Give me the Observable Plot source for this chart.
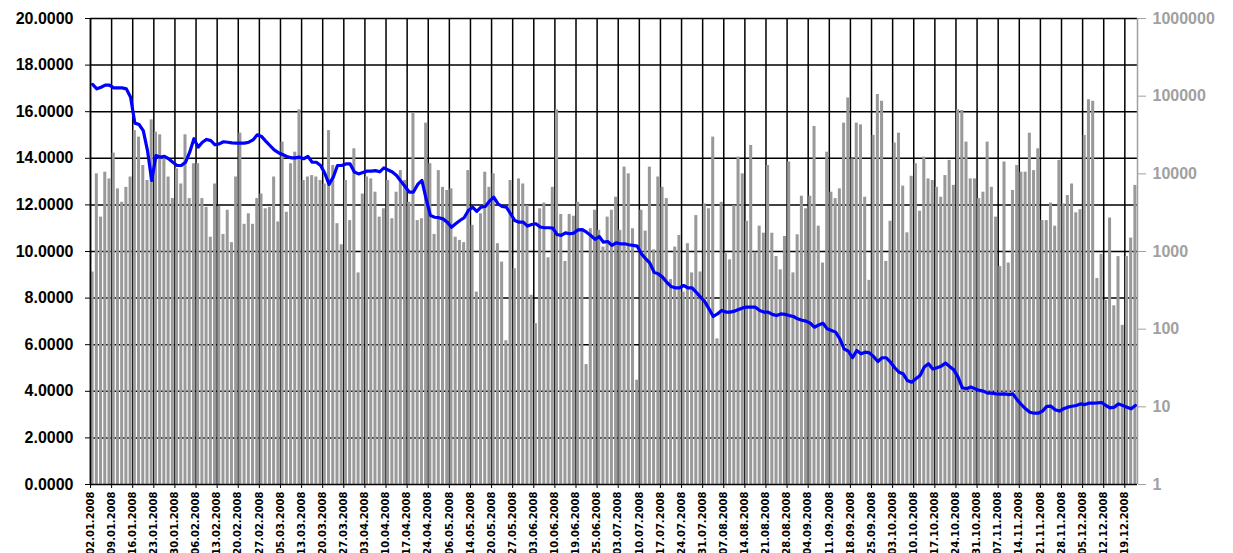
<!DOCTYPE html>
<html><head><meta charset="utf-8">
<script src="https://cdn.jsdelivr.net/npm/d3@7"></script>
<script src="https://cdn.jsdelivr.net/npm/@observablehq/plot@0.6"></script>
<style>
html,body{margin:0;padding:0;background:#fff;}
#chart svg{display:block;}
</style></head><body><div id="chart"></div>
<script>
const tickLabels = ["02.01.2008","09.01.2008","16.01.2008","23.01.2008","30.01.2008","06.02.2008","13.02.2008","20.02.2008","27.02.2008","05.03.2008","13.03.2008","20.03.2008","27.03.2008","03.04.2008","10.04.2008","17.04.2008","24.04.2008","06.05.2008","14.05.2008","20.05.2008","27.05.2008","03.06.2008","10.06.2008","19.06.2008","25.06.2008","03.07.2008","10.07.2008","17.07.2008","24.07.2008","31.07.2008","07.08.2008","14.08.2008","21.08.2008","28.08.2008","04.09.2008","11.09.2008","18.09.2008","25.09.2008","03.10.2008","10.10.2008","17.10.2008","24.10.2008","31.10.2008","07.11.2008","14.11.2008","21.11.2008","28.11.2008","05.12.2008","12.12.2008","19.12.2008"];

const volume = [
545,10000,2770,10500,8600,18500,6400,4300,6700,9100,
36000,29700,12800,8200,49500,34400,31800,17100,9100,4800,
11600,7400,31800,4800,13500,13500,4800,3700,1530,7400,
3800,1660,3400,1300,9100,33400,2240,3060,2240,4800,
5500,3550,3700,9100,2400,25600,3200,13500,19000,66800,
8200,9100,9500,9100,8200,7400,36000,12800,2280,1220,
8200,2500,21000,530,5500,9100,8600,5800,2770,3550,
8200,2640,5800,11000,8200,4300,60500,2500,2640,45000,
13500,1660,11000,6700,6100,6400,1530,1390,1300,11000,
2170,300,3060,10500,6700,10000,1260,730,71,8200,
600,8600,7400,3900,273,118,3550,4200,830,6700,
66800,3000,745,3000,2850,4300,1960,35,1960,3400,
1870,1140,2770,3400,5000,1870,12200,10000,1960,22,
3400,1830,12200,1050,9100,6700,4800,435,1140,1610,
300,1260,530,2900,545,4100,3550,29700,75,4300,
940,780,3900,16400,10000,2450,23200,980,2120,1720,
12800,1720,860,580,1560,14200,530,1640,5150,3550,
5150,40700,2120,710,19000,5800,4800,6400,45000,95000,
15600,45000,42700,5000,425,31200,105000,86000,745,2450,
24900,33400,6950,1740,9300,13500,3300,16400,8600,8200,
6700,5000,9500,14900,7100,66800,65400,25600,8600,8600,
4800,5800,25600,6700,2770,640,14200,710,6100,12800,
10500,10500,33400,11000,21000,2500,2500,4200,2120,14900,
4100,5250,7400,3150,3450,31200,90000,86000,450,920,
235,2700,200,860,112,860,1490,7100
];

const price = [
17.17,16.98,17.05,17.14,17.14,17.02,17.02,17.02,16.98,16.62,
15.51,15.45,15.19,14.33,13.05,14.12,14.05,14.08,13.98,13.83,
13.69,13.69,13.83,14.26,14.84,14.48,14.69,14.81,14.76,14.58,
14.62,14.71,14.69,14.66,14.65,14.65,14.65,14.69,14.79,15.01,
14.94,14.74,14.55,14.36,14.24,14.16,14.08,14.02,14.02,14.05,
13.98,14.08,13.83,13.83,13.69,13.36,12.88,13.19,13.69,13.69,
13.76,13.76,13.41,13.33,13.39,13.45,13.45,13.47,13.42,13.59,
13.50,13.41,13.26,13.02,12.79,12.55,12.55,12.88,13.05,12.26,
11.55,11.47,11.45,11.40,11.26,11.04,11.19,11.33,11.45,11.76,
11.90,11.72,11.90,11.93,12.16,12.33,12.05,11.93,11.90,11.62,
11.33,11.26,11.26,11.09,11.16,11.19,11.05,11.02,11.02,11.00,
10.73,10.69,10.80,10.76,10.79,10.93,10.94,10.83,10.69,10.52,
10.64,10.40,10.43,10.26,10.37,10.33,10.33,10.29,10.26,10.23,
9.90,9.69,9.50,9.11,9.04,8.90,8.68,8.50,8.44,8.44,
8.54,8.44,8.44,8.25,8.04,7.85,7.54,7.21,7.32,7.47,
7.40,7.40,7.44,7.51,7.58,7.61,7.61,7.61,7.47,7.40,
7.40,7.30,7.25,7.32,7.30,7.25,7.21,7.11,7.05,7.01,
6.92,6.75,6.85,6.92,6.68,6.61,6.54,6.25,5.82,5.72,
5.44,5.75,5.61,5.68,5.65,5.49,5.28,5.44,5.44,5.25,
5.01,4.82,4.75,4.46,4.39,4.54,4.68,5.04,5.18,4.96,
5.01,5.08,5.21,5.06,4.92,4.61,4.15,4.11,4.18,4.11,
4.04,4.01,3.92,3.92,3.89,3.88,3.89,3.86,3.89,3.63,
3.43,3.25,3.10,3.06,3.06,3.15,3.35,3.36,3.21,3.15,
3.25,3.32,3.36,3.39,3.46,3.43,3.49,3.49,3.50,3.52,
3.39,3.29,3.32,3.46,3.39,3.32,3.25,3.39
];

const leftTicks = [0,2,4,6,8,10,12,14,16,18,20];
const rightTicks = [1,10,100,1000,10000,100000,1000000];

const N = volume.length;
const vScale = d3.scaleLog().domain([1, 1e6]).range([0, 20]);
const rows = volume.map((v, i) => ({i, v, p: price[i]}));
const tickIdx = tickLabels.map((_, k) => k * 5);

const chart = Plot.plot({
  width: 1233, height: 553,
  marginLeft: 90, marginRight: 96, marginTop: 18, marginBottom: 69,
  style: {background: "#fff", fontFamily: "'Liberation Sans', Arial, sans-serif", overflow: "visible"},
  x: {domain: [0, N], axis: null},
  y: {domain: [0, 20], axis: null},
  marks: [
    Plot.ruleY(leftTicks.slice(1), {stroke: "#000", strokeWidth: 1.5}),
    Plot.ruleX(tickIdx, {stroke: "#000", strokeWidth: 1.5}),
    Plot.rectY(rows, {x1: "i", x2: d => d.i + 1, y1: 0, y2: d => vScale(d.v), fill: "#999999", insetLeft: 0.6, insetRight: 0.6}),
    Plot.ruleY([0], {stroke: "#000", strokeWidth: 1.5}),
    Plot.ruleX([0], {stroke: "#000", strokeWidth: 1.5}),
    Plot.ruleX([N], {stroke: "#a0a0a0", strokeWidth: 1.5}),
    Plot.line(rows, {x: d => d.i + 0.5, y: "p", stroke: "#0000ff", strokeWidth: 3.2, strokeLinejoin: "round"}),
    Plot.axisY(leftTicks, {anchor: "left", label: null, tickFormat: d => d.toFixed(4), tickSize: 5, tickPadding: 12, fontSize: 16, fontWeight: "bold", color: "#000"}),
    Plot.axisY(rightTicks.map(t => vScale(t)), {anchor: "right", label: null, tickFormat: d => String(Math.round(vScale.invert(d))), tickSize: 8, tickPadding: 7, fontSize: 16, fontWeight: "bold", color: "#a0a0a0"}),
    Plot.axisX(tickIdx, {anchor: "bottom", label: null, tickFormat: d => tickLabels[d / 5], tickRotate: -90, tickSize: 4, tickPadding: 3, fontSize: 10, fontWeight: "bold", fontFamily: "'DejaVu Sans', sans-serif", color: "#000"})
  ]
});
document.getElementById("chart").appendChild(chart);
</script>
</body></html>
